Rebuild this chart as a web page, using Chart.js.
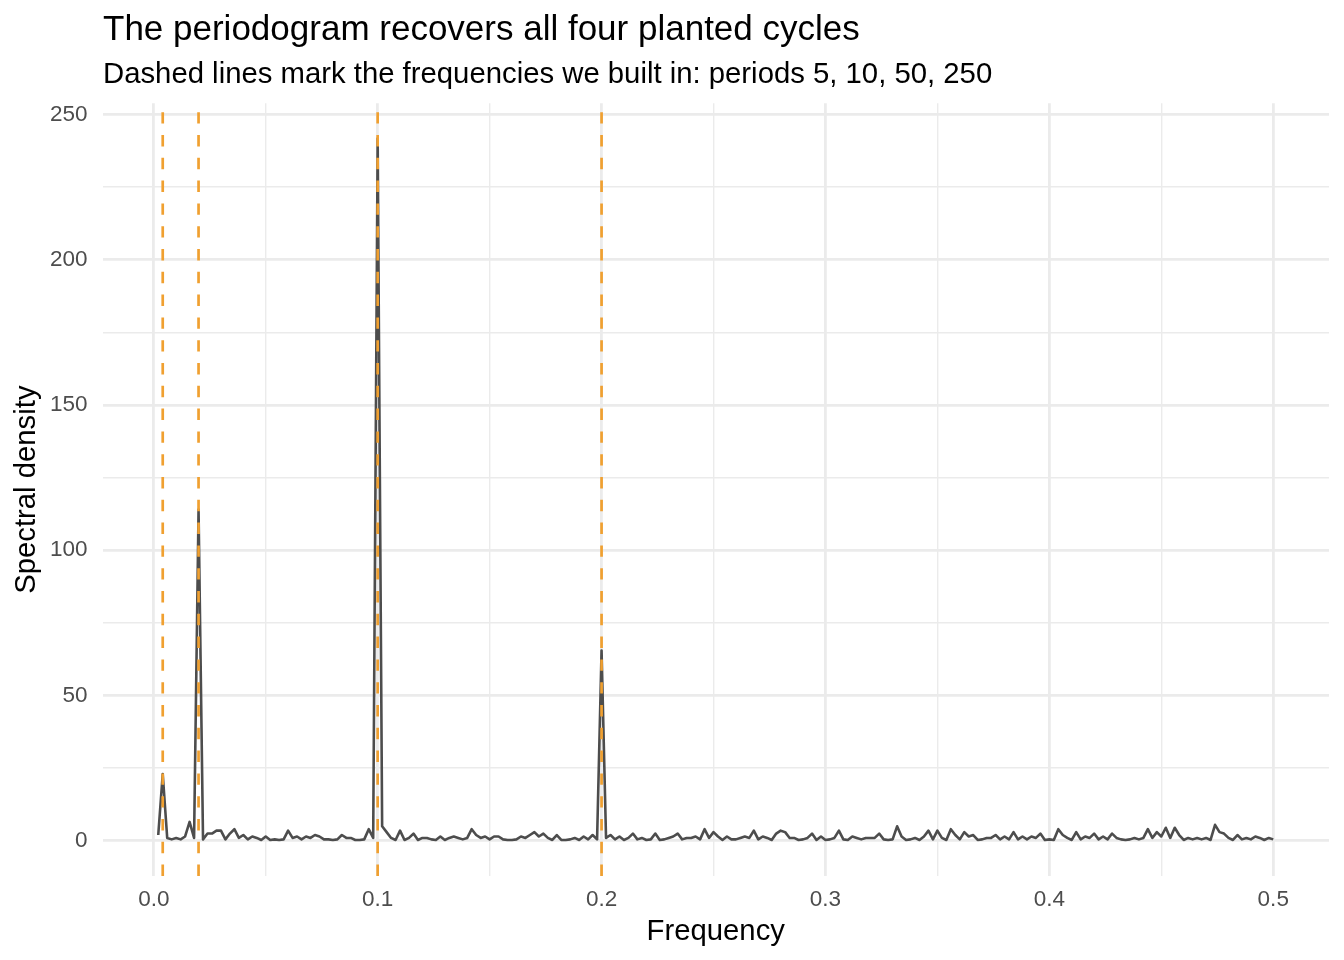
<!DOCTYPE html>
<html>
<head>
<meta charset="utf-8">
<script src="https://cdn.jsdelivr.net/npm/chart.js@4"></script>
<style>
	body { margin: 0; background: #fff; }
	#wrap { position: relative; width: 1344px; height: 960px; font-family: "Liberation Sans", Arial, sans-serif; }
	#wrap canvas { position: absolute; left: 0; top: 0; }
	.title { position: absolute; left: 103px; top: 10px; font-size: 35px; line-height: 1; color: #000; white-space: nowrap; }
	.subtitle { position: absolute; left: 103px; top: 58px; font-size: 29.3px; line-height: 1; color: #000; white-space: nowrap; }
</style>
</head>
<body>
<div id="wrap">
	<canvas id="chart" width="1344" height="960"></canvas>
	<div class="title">The periodogram recovers all four planted cycles</div>
	<div class="subtitle">Dashed lines mark the frequencies we built in: periods 5, 10, 50, 250</div>
</div>
<script>
// series length the periodogram was taken from (Fourier frequencies k / nObs)
const nObs = 500;

// spectral density, k = 1 .. 250
const spectrum = [
	2, 23, 1, 0.5, 1, 0.5, 1.5, 6.5, 1, 114,
	0.5, 2.5, 2.5, 3.5, 3.5, 0.5, 2.5, 4, 1, 2,
	0.5, 1.5, 1, 0.3, 1.5, 0.3, 0.5, 0.3, 0.5, 3.5,
	1, 1.5, 0.5, 1.5, 1, 2, 1.5, 0.5, 0.5, 0.3,
	0.5, 2, 1, 1, 0.3, 0.3, 0.5, 4, 1, 241.7,
	5, 3, 1, 0.3, 3.5, 0.3, 1, 2.5, 0.3, 1,
	1, 0.5, 0.3, 1.5, 0.3, 1, 1.5, 1, 0.5, 1,
	4, 2, 1, 1.5, 0.5, 1.5, 1.5, 0.5, 0.3, 0.3,
	0.5, 1.5, 1, 2, 3, 1.5, 2.5, 1, 0.3, 2,
	0.3, 0.3, 0.5, 1, 0.3, 1.5, 0.5, 2, 0.5, 65.5,
	1, 2, 0.5, 1.5, 0.3, 1, 2.5, 0.5, 1, 0.3,
	0.5, 2.5, 0.3, 0.5, 1, 1.5, 2.5, 0.5, 1, 1,
	1.5, 0.5, 4, 1, 3, 1.5, 0.3, 1.5, 0.5, 0.5,
	1, 1.5, 1, 3.5, 0.5, 1.5, 1, 0.3, 2.5, 3.5,
	3, 1, 1, 0.3, 0.5, 1, 2.5, 0.3, 1.5, 0.3,
	0.5, 1, 3.5, 0.5, 0.3, 1.5, 1, 0.5, 1, 1,
	1, 2.5, 0.5, 0.3, 0.5, 5, 1.5, 0.3, 0.5, 1,
	0.3, 1.5, 3.5, 0.5, 3.5, 1, 0.3, 4, 2, 0.5,
	3, 1.5, 2, 0.3, 0.5, 1, 1, 2, 0.5, 1.5,
	0.5, 3, 0.5, 1.5, 0.5, 1.5, 1, 2.5, 0.3, 0.5,
	0.3, 4, 2, 1, 0.3, 3, 0.5, 1.5, 1, 2.5,
	0.5, 1.5, 0.5, 2.5, 1, 0.5, 0.3, 0.5, 1, 0.5,
	1, 4, 1, 3, 1.5, 4.5, 1, 4.5, 2, 0.3,
	1, 0.5, 1, 0.5, 1, 0.3, 5.5, 3, 2.5, 1,
	0.3, 2, 0.5, 1, 0.5, 1.5, 1, 0.3, 1, 0.5
];

// planted cycle periods -> marked frequencies
const plantedPeriods = [250, 50, 10, 5];

const xTicks = [0, 0.05, 0.1, 0.15, 0.2, 0.25, 0.3, 0.35, 0.4, 0.45, 0.5];
const yTicks = [0, 25, 50, 75, 100, 125, 150, 175, 200, 225, 250];

const xMin = -0.0229, xMax = 0.5249;
const yMin = -12.1, yMax = 253.8;

const orange = `rgb(240, 160, 48)`;
const grid = `#ebebeb`;
const font = `"Liberation Sans", Arial, sans-serif`;

const points = spectrum.map((v, i) => ({x: (i + 1) / nObs, y: v}));

const markerSets = plantedPeriods.map(p => ({
	label: `period ${p}`,
	data: [{x: 1 / p, y: yMin}, {x: 1 / p, y: yMax}],
	showLine: true,
	borderColor: orange,
	borderWidth: 2.7,
	borderDash: [11.4, 11.4],
	pointRadius: 0,
	order: 0
}));

const isMajorX = v => Math.round(v * 100) % 10 === 0;
const isMajorY = v => v % 50 === 0;

new Chart(document.getElementById(`chart`), {
	type: `scatter`,
	data: {
		datasets: [
			...markerSets,
			{
				label: `Spectral density`,
				data: points,
				showLine: true,
				borderColor: `#4d4d4d`,
				borderWidth: 2.6,
				borderJoinStyle: `round`,
				pointRadius: 0,
				order: 1
			}
		]
	},
	options: {
		responsive: false,
		animation: false,
		devicePixelRatio: 1,
		layout: {
			padding: {top: 103.3, right: 15, bottom: 0, left: 0}
		},
		scales: {
			x: {
				type: `linear`,
				min: xMin,
				max: xMax,
				afterBuildTicks: scale => { scale.ticks = xTicks.map(v => ({value: v})); },
				afterFit: scale => { scale.height = 84; },
				border: {display: false},
				grid: {
					color: grid,
					drawTicks: false,
					lineWidth: ctx => ctx.tick && isMajorX(ctx.tick.value) ? 2.8 : 1.4
				},
				ticks: {
					autoSkip: false,
					maxRotation: 0,
					padding: 10,
					color: `#4d4d4d`,
					font: {family: font, size: 22.5},
					callback: v => isMajorX(v) ? v.toFixed(1) : ``
				},
				title: {
					display: true,
					text: `Frequency`,
					color: `#000`,
					font: {family: font, size: 29.3},
					padding: {top: 0, bottom: 11}
				}
			},
			y: {
				type: `linear`,
				min: yMin,
				max: yMax,
				afterBuildTicks: scale => { scale.ticks = yTicks.map(v => ({value: v})); },
				afterFit: scale => { scale.width = 102.5; },
				border: {display: false},
				grid: {
					color: grid,
					drawTicks: false,
					lineWidth: ctx => ctx.tick && isMajorY(ctx.tick.value) ? 2.8 : 1.4
				},
				ticks: {
					autoSkip: false,
					padding: 15,
					color: `#4d4d4d`,
					font: {family: font, size: 22.5},
					callback: v => isMajorY(v) ? String(v) : ``
				},
				title: {
					display: true,
					text: `Spectral density`,
					color: `#000`,
					font: {family: font, size: 29.3},
					padding: {top: 9, bottom: 0}
				}
			}
		},
		plugins: {
			legend: {display: false},
			tooltip: {enabled: false}
		}
	}
});
</script>
</body>
</html>
